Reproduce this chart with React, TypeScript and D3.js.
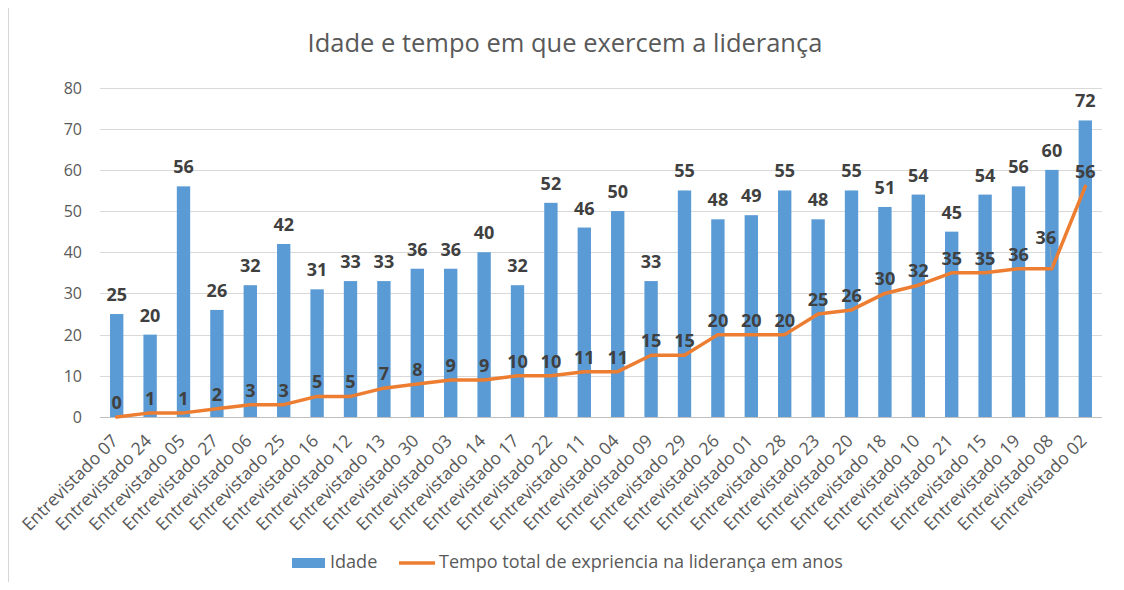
import React, { useEffect, useRef } from 'react';
import * as d3 from 'd3';

const categories = [
  'Entrevistado 07', 'Entrevistado 24', 'Entrevistado 05', 'Entrevistado 27', 'Entrevistado 06',
  'Entrevistado 25', 'Entrevistado 16', 'Entrevistado 12', 'Entrevistado 13', 'Entrevistado 30',
  'Entrevistado 03', 'Entrevistado 14', 'Entrevistado 17', 'Entrevistado 22', 'Entrevistado 11',
  'Entrevistado 04', 'Entrevistado 09', 'Entrevistado 29', 'Entrevistado 26', 'Entrevistado 01',
  'Entrevistado 28', 'Entrevistado 23', 'Entrevistado 20', 'Entrevistado 18', 'Entrevistado 10',
  'Entrevistado 21', 'Entrevistado 15', 'Entrevistado 19', 'Entrevistado 08', 'Entrevistado 02',
];
const idade = [25, 20, 56, 26, 32, 42, 31, 33, 33, 36, 36, 40, 32, 52, 46, 50, 33, 55, 48, 49, 55, 48, 55, 51, 54, 45, 54, 56, 60, 72];
const tempo = [0, 1, 1, 2, 3, 3, 5, 5, 7, 8, 9, 9, 10, 10, 11, 11, 15, 15, 20, 20, 20, 25, 26, 30, 32, 35, 35, 36, 36, 56];
const yTicks = [0, 10, 20, 30, 40, 50, 60, 70, 80];
const seriesNames = ['Idade', 'Tempo total de exprіencia na liderança em anos'.replace('і', 'i')];

const W = 1124;
const H = 590;
const FONT = '"Open Sans", sans-serif';
const BLUE = '#5B9BD5';
const ORANGE = '#ED7D31';
const TEXT = '#595959';

// shrink/grow font so a text element spans a target width
function fit(sel: d3.Selection<SVGTextElement, any, any, any>, width: number, base: number) {
  const node = sel.node()!;
  const w = node.getComputedTextLength();
  if (w > 0) sel.attr('font-size', (base * width) / w);
}

export default function App() {
  const ref = useRef<SVGSVGElement>(null);

  useEffect(() => {
    const svg = d3.select(ref.current);
    svg.selectAll('*').remove();

    const margin = { top: 87.5, left: 100, right: 22, bottom: 173 };
    const x = d3.scaleBand().domain(categories).range([margin.left, W - margin.right]).paddingInner(0.6).paddingOuter(0.3);
    const y = d3.scaleLinear().domain([0, 80]).range([H - margin.bottom, margin.top]);
    const cx = (i: number) => x(categories[i])! + x.bandwidth() / 2;

    // chart frame (right / bottom edges fall outside the picture)
    svg.append('rect').attr('x', 8).attr('y', 7).attr('width', W + 10).attr('height', H + 10)
      .attr('fill', 'white').attr('stroke', '#d6d6d6').attr('stroke-width', 2);

    const title = svg.append('text').attr('x', 565).attr('y', 52).attr('text-anchor', 'middle')
      .attr('font-family', FONT).attr('font-size', 26).attr('fill', TEXT)
      .text('Idade e tempo em que exercem a liderança');
    fit(title, 515, 26);

    // grid
    svg.append('g').selectAll('line').data(yTicks.slice(1)).enter().append('line')
      .attr('x1', margin.left).attr('x2', W - margin.right)
      .attr('y1', (d) => Math.round(y(d)) + 0.5).attr('y2', (d) => Math.round(y(d)) + 0.5)
      .attr('stroke', '#d9d9d9');
    svg.append('line').attr('x1', margin.left).attr('x2', W - margin.right)
      .attr('y1', Math.round(y(0)) + 0.5).attr('y2', Math.round(y(0)) + 0.5).attr('stroke', '#bfbfbf');

    svg.append('g').selectAll('text').data(yTicks).enter().append('text')
      .attr('x', 82).attr('y', (d) => y(d) + 6).attr('text-anchor', 'end')
      .attr('font-family', FONT).attr('font-size', 16).attr('fill', TEXT)
      .text((d) => d);

    // bars
    svg.append('g').selectAll('rect').data(idade).enter().append('rect')
      .attr('x', (d, i) => x(categories[i])!)
      .attr('y', (d) => y(d))
      .attr('width', x.bandwidth())
      .attr('height', (d) => y(0) - y(d))
      .attr('fill', BLUE);

    // line
    const line = d3.line<number>().x((d, i) => cx(i)).y((d) => y(d));
    svg.append('path').datum(tempo).attr('d', line).attr('fill', 'none')
      .attr('stroke', ORANGE).attr('stroke-width', 3.5).attr('stroke-linejoin', 'round').attr('stroke-linecap', 'round');

    // bar labels
    svg.append('g').selectAll('text').data(idade).enter().append('text')
      .attr('x', (d, i) => cx(i)).attr('y', (d) => y(d) - 13).attr('text-anchor', 'middle')
      .attr('font-family', FONT).attr('font-size', 18).attr('font-weight', 'bold').attr('fill', '#404040')
      .text((d) => d);

    // line labels (the one before last was dragged up in the original, with a leader line)
    const moved = tempo.length - 2;
    svg.append('line')
      .attr('x1', cx(moved) - 2).attr('y1', y(tempo[moved]) - 22)
      .attr('x2', cx(moved)).attr('y2', y(tempo[moved]))
      .attr('stroke', '#a6a6a6').attr('stroke-width', 0.8);
    svg.append('g').selectAll('text').data(tempo).enter().append('text')
      .attr('x', (d, i) => (i === moved ? cx(i) - 6 : cx(i)))
      .attr('y', (d, i) => y(d) - (i === moved ? 25 : 8)).attr('text-anchor', 'middle')
      .attr('font-family', FONT).attr('font-size', 18).attr('font-weight', 'bold').attr('fill', '#404040')
      .text((d) => d);

    // x labels
    const xl = svg.append('g').selectAll('text').data(categories).enter().append('text')
      .attr('transform', (d) => `translate(${x(d)! + x.bandwidth() / 2 + 2.5},${y(0) + 25}) rotate(-45)`)
      .attr('text-anchor', 'end')
      .attr('font-family', FONT).attr('font-size', 15).attr('fill', TEXT)
      .text((d) => d);
    const w0 = (xl.node() as SVGTextElement).getComputedTextLength();
    if (w0 > 0) xl.attr('font-size', (15 * 127) / w0);

    // legend
    const lg = svg.append('g');
    lg.append('rect').attr('x', 292).attr('y', 558).attr('width', 33).attr('height', 10).attr('fill', BLUE);
    const t1 = lg.append('text').attr('x', 330).attr('y', 568).attr('font-family', FONT).attr('font-size', 16).attr('fill', TEXT).text(seriesNames[0]);
    lg.append('line').attr('x1', 399).attr('x2', 435).attr('y1', 563).attr('y2', 563).attr('stroke', ORANGE).attr('stroke-width', 3.5);
    const t2 = lg.append('text').attr('x', 439).attr('y', 568).attr('font-family', FONT).attr('font-size', 16).attr('fill', TEXT)
      .text(seriesNames[1]);
    fit(t2, 404, 16);
    t1.attr('font-size', t2.attr('font-size'));
  }, []);

  return <svg ref={ref} width={W} height={H} style={{ display: 'block', margin: -8 }} />;
}
